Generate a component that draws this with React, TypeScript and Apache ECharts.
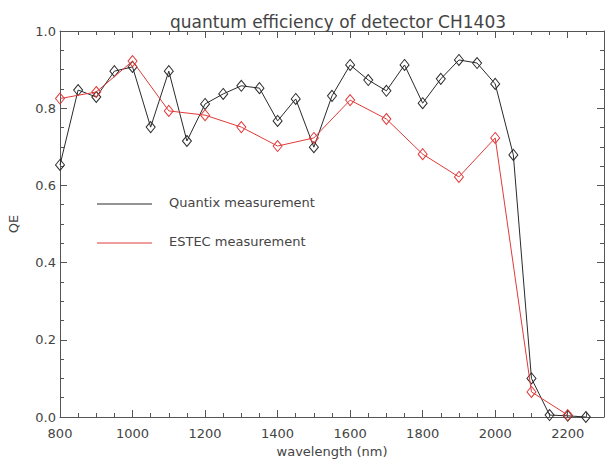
import React, { useEffect, useRef } from "react";
import * as echarts from "echarts";

const titleText = "quantum efficiency of detector CH1403";
const xName = "wavelength (nm)";
const yName = "QE";

const quantixName = "Quantix measurement";
const quantixWavelengths = [
  800, 850, 900, 950, 1000, 1050, 1100, 1150, 1200, 1250, 1300, 1350, 1400, 1450, 1500,
  1550, 1600, 1650, 1700, 1750, 1800, 1850, 1900, 1950, 2000, 2050, 2100, 2150, 2200, 2250,
];
const quantixQE = [
  0.653, 0.847, 0.829, 0.896, 0.907, 0.751, 0.896, 0.715, 0.811, 0.837, 0.858, 0.852, 0.767, 0.824, 0.699,
  0.832, 0.912, 0.873, 0.845, 0.912, 0.813, 0.876, 0.925, 0.917, 0.863, 0.679, 0.1, 0.005, 0.003, 0.0,
];

const estecName = "ESTEC measurement";
const estecWavelengths = [800, 900, 1000, 1100, 1200, 1300, 1400, 1500, 1600, 1700, 1800, 1900, 2000, 2100, 2200];
const estecQE = [0.825, 0.842, 0.922, 0.793, 0.782, 0.751, 0.702, 0.723, 0.821, 0.772, 0.681, 0.622, 0.723, 0.065, 0.005];

const FONT = "DejaVu Sans";
const TEXT = "#444";
const AXIS = "#555";
const BLACK = "#2a2a2a";
const RED = "#e03a3a";

export default function App() {
  const ref = useRef<HTMLDivElement>(null);
  useEffect(() => {
    if (!ref.current) return;
    const chart = echarts.init(ref.current, undefined, { renderer: "svg" });
    const baseX = { type: "value", min: 800, max: 2300, splitLine: { show: false } };
    const line = { show: true, lineStyle: { color: AXIS, width: 1 } };
    chart.setOption({
      animation: false,
      backgroundColor: "#fff",
      title: {
        text: titleText,
        left: 333,
        textAlign: "center",
        top: 8,
        textStyle: { fontFamily: FONT, fontSize: 17, fontWeight: "normal", color: TEXT },
      },
      grid: { left: 60, right: 1, top: 31, bottom: 44, containLabel: false, outerBoundsMode: "none" },
      xAxis: [
        {
          ...baseX,
          interval: 200,
          position: "bottom",
          axisLine: line,
          axisTick: { inside: true, length: 7, lineStyle: { color: AXIS } },
          axisLabel: {
            showMaxLabel: false,
            margin: 10,
            fontSize: 13,
            color: TEXT,
            fontFamily: FONT,
            formatter: (v: number) => String(v),
          },
          name: xName,
          nameLocation: "middle",
          nameGap: 28,
          nameTextStyle: { fontSize: 13, color: TEXT, fontFamily: FONT },
        },
        {
          ...baseX,
          interval: 50,
          position: "bottom",
          axisLine: { show: false },
          axisTick: { inside: true, length: 4, lineStyle: { color: AXIS } },
          axisLabel: { show: false },
        },
        {
          ...baseX,
          interval: 200,
          position: "top",
          axisLine: line,
          axisTick: { inside: true, length: 7, lineStyle: { color: AXIS } },
          axisLabel: { show: false },
        },
        {
          ...baseX,
          interval: 50,
          position: "top",
          axisLine: { show: false },
          axisTick: { inside: true, length: 4, lineStyle: { color: AXIS } },
          axisLabel: { show: false },
        },
      ],
      yAxis: [
        {
          type: "value",
          min: 0,
          max: 1,
          interval: 0.2,
          position: "left",
          splitLine: { show: false },
          axisLine: line,
          axisTick: { inside: true, length: 7, lineStyle: { color: AXIS } },
          minorTick: { show: true, splitNumber: 4, length: 4, lineStyle: { color: AXIS } },
          axisLabel: {
            margin: 4,
            fontSize: 13,
            color: TEXT,
            fontFamily: FONT,
            formatter: (v: number) => v.toFixed(1),
          },
          name: yName,
          nameLocation: "middle",
          nameGap: 40,
          nameTextStyle: { fontSize: 13, color: TEXT, fontFamily: FONT },
        },
        {
          type: "value",
          min: 0,
          max: 1,
          interval: 0.2,
          position: "right",
          splitLine: { show: false },
          axisLine: line,
          axisTick: { inside: true, length: 7, lineStyle: { color: AXIS } },
          minorTick: { show: true, splitNumber: 4, length: 4, lineStyle: { color: AXIS } },
          axisLabel: { show: false },
        },
      ],
      series: [
        {
          name: quantixName,
          type: "line",
          xAxisIndex: 0,
          yAxisIndex: 0,
          data: quantixWavelengths.map((w, i) => [w, quantixQE[i]]),
          symbol: "diamond",
          symbolSize: [9, 11],
          showAllSymbol: true,
          lineStyle: { color: BLACK, width: 1 },
          itemStyle: { color: "rgba(255,255,255,0)", borderColor: BLACK, borderWidth: 1 },
          z: 2,
        },
        {
          name: estecName,
          type: "line",
          xAxisIndex: 0,
          yAxisIndex: 0,
          data: estecWavelengths.map((w, i) => [w, estecQE[i]]),
          symbol: "diamond",
          symbolSize: [9, 11],
          showAllSymbol: true,
          lineStyle: { color: RED, width: 1 },
          itemStyle: { color: "rgba(255,255,255,0)", borderColor: RED, borderWidth: 1 },
          z: 3,
        },
      ],
      graphic: [
        { type: "line", shape: { x1: 97, y1: 204, x2: 152, y2: 204 }, style: { stroke: BLACK, lineWidth: 1 } },
        {
          type: "text",
          x: 169,
          y: 202,
          style: { text: quantixName, fontFamily: FONT, fontSize: 13, fill: TEXT, verticalAlign: "middle" },
        },
        { type: "line", shape: { x1: 97, y1: 243, x2: 152, y2: 243 }, style: { stroke: RED, lineWidth: 1 } },
        {
          type: "text",
          x: 169,
          y: 241,
          style: { text: estecName, fontFamily: FONT, fontSize: 13, fill: TEXT, verticalAlign: "middle" },
        },
      ],
    });
    return () => chart.dispose();
  }, []);
  return <div ref={ref} style={{ position: "fixed", left: 0, top: 0, width: 605, height: 461 }} />;
}
